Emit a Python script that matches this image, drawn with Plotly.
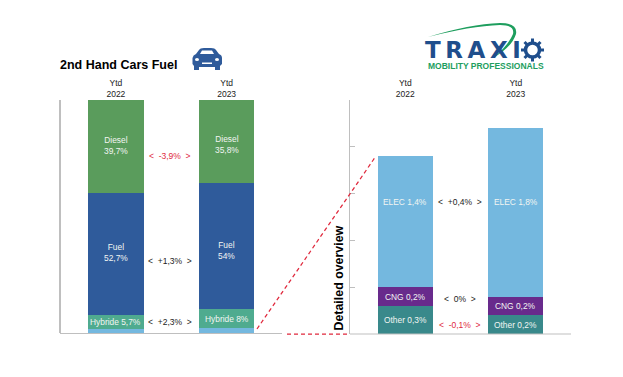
import plotly.graph_objects as go

W, H = 623, 377

# ---- data ----
years = ["Ytd<br>2022", "Ytd<br>2023"]

left_small = [1.9, 2.2]
hybride = [5.7, 8.0]
fuel = [52.7, 54.0]
diesel = [39.7, 35.8]
hybride_labels = ["Hybride 5,7%", "Hybride 8%"]
fuel_labels = ["Fuel<br>52,7%", "Fuel<br>54%"]
diesel_labels = ["Diesel<br>39,7%", "Diesel<br>35,8%"]

other = [0.3, 0.2]
cng = [0.2, 0.2]
elec = [1.4, 1.8]
other_labels = ["Other 0,3%", "Other 0,2%"]
cng_labels = ["CNG 0,2%", "CNG 0,2%"]
elec_labels = ["ELEC 1,4%", "ELEC 1,8%"]

# ---- style ----
FONT = "Liberation Sans, Arial, sans-serif"
GREEN = "#5A9C5C"
BLUE = "#2F5B9B"
HYB = "#4FAB8F"
LBLUE = "#74B8DF"
PURPLE = "#682A8C"
TEAL = "#39898B"
RED = "#E0283C"
GREY = "#BFBFBF"
NAVY = "#1F4E8C"
LOGOGREEN = "#1E9E5E"
LABEL = "#F2F5F2"


def px(x):
    return x / W


def py(y):
    return 1 - y / H


fig = go.Figure()
# running top of each stack, per axis pair
tops = {"x": [0, 0], "x2": [0, 0]}


def stack(values, color, labels, xa, ya, shifts=(0, 0)):
    fig.add_bar(
        x=years, y=values, marker=dict(color=color, line_width=0),
        hoverinfo="skip", xaxis=xa, yaxis=ya, showlegend=False,
    )
    for i, v in enumerate(values):
        if labels:
            fig.add_annotation(
                xref=xa, yref=ya, x=years[i], y=tops[xa][i] + v / 2, text=labels[i],
                showarrow=False, xanchor="center", yanchor="middle", yshift=shifts[i],
                font=dict(family=FONT, size=8.4, color=LABEL),
            )
        tops[xa][i] += v


stack(left_small, LBLUE, None, "x", "y")
stack(hybride, HYB, hybride_labels, "x", "y", (0, 0))
stack(fuel, BLUE, fuel_labels, "x", "y", (1, -4))
stack(diesel, GREEN, diesel_labels, "x", "y", (1, -3))
stack(other, TEAL, other_labels, "x2", "y2")
stack(cng, PURPLE, cng_labels, "x2", "y2")
stack(elec, LBLUE, elec_labels, "x2", "y2", (20, 10))

xcommon = dict(
    type="category", categoryorder="array", categoryarray=years, range=[-0.5, 1.5],
    side="top", showline=False, showgrid=False, zeroline=False, ticks="",
    tickfont=dict(family=FONT, size=8.5, color="#222222"),
)
fig.update_layout(
    width=W, height=H, autosize=False,
    margin=dict(l=0, r=0, t=0, b=0),
    paper_bgcolor="white", plot_bgcolor="white",
    barmode="stack", bargap=0.5, showlegend=False,
    xaxis=dict(domain=[px(60.5), px(282)], anchor="y", **xcommon),
    yaxis=dict(domain=[py(333), py(100)], anchor="x", range=[0, 100],
               showline=True, linecolor=GREY, linewidth=1.5,
               showgrid=False, zeroline=False, ticks="", showticklabels=False),
    xaxis2=dict(domain=[px(350), px(571)], anchor="y2", **xcommon),
    yaxis2=dict(domain=[py(334), py(100)], anchor="x2", range=[0, 2.5], dtick=0.5,
                showline=True, linecolor=GREY, linewidth=1,
                showgrid=False, zeroline=False, ticks="inside", ticklen=5,
                tickcolor=GREY, showticklabels=False),
    title=dict(text="<b>2nd Hand Cars Fuel</b>", x=px(60), xanchor="left",
               y=py(65), yanchor="middle",
               font=dict(family=FONT, size=12.5, color="#000000")),
)


def note(x, y, text, color="#222222", size=8.5, **kw):
    fig.add_annotation(xref="paper", yref="paper", x=px(x), y=py(y), text=text,
                       showarrow=False, xanchor=kw.pop("xanchor", "center"),
                       yanchor="middle", font=kw.pop("font", None) or dict(family=FONT, size=size, color=color), **kw)


note(170, 156, "&lt;  -3,9%  &gt;", RED)
note(170, 261, "&lt;  +1,3%  &gt;")
note(170, 322, "&lt;  +2,3%  &gt;")
note(460, 202, "&lt;  +0,4%  &gt;")
note(459.5, 298.5, "&lt;  0%  &gt;")
note(459.5, 325, "&lt;  -0,1%  &gt;", RED)
note(338, 278.5, "<b>Detailed overview</b>", "#000000", 12.4, textangle=-90)

# logo text
note(473, 50, "<b>T\u2009R\u2009A\u2009X\u2009I</b>", NAVY,
     font=dict(family="DejaVu Sans, sans-serif", size=23, color=NAVY))
note(485.5, 65.7, "<b>MOBILITY PROFESSIONALS</b>", LOGOGREEN, 8.5)


def line(x0, y0, x1, y1, **kw):
    fig.add_shape(type="line", xref="paper", yref="paper",
                  x0=px(x0), y0=py(y0), x1=px(x1), y1=py(y1), line=kw, layer="above")


# axes bottoms
line(60, 333.5, 282, 333.5, color=GREY, width=1)
line(350, 334, 571, 334, color=GREY, width=1)
# zoom connector lines
line(257, 329, 376, 156, color=RED, width=1.25, dash="4px,3px")
line(287, 334, 348, 334, color=RED, width=1.25, dash="4px,3px")


def path(d, fill=None, stroke=None, width=0):
    out = []
    for tok in d.split():
        if "," in tok:
            a, b = tok.split(",")
            out.append(f"{px(float(a)):.5f},{py(float(b)):.5f}")
        else:
            out.append(tok)
    fig.add_shape(type="path", xref="paper", yref="paper", path=" ".join(out),
                  fillcolor=fill, line=dict(color=stroke or "rgba(0,0,0,0)", width=width),
                  layer="above")


# logo swoosh and gear
path("M 428,37 Q 470,24 500,23 Q 518,23 516,34 Q 512,47 493,58 Q 508,46 513,34 Q 515,25 500,25 Q 470,26 428,37 Z", LOGOGREEN)
fig.add_shape(type="circle", xref="paper", yref="paper", x0=px(525.5), y0=py(57), x1=px(539.5),
              y1=py(43), line=dict(color=NAVY, width=3.5), fillcolor="white", layer="above")
for a, b, c, d in [(532.5, 38.5, 532.5, 42.5), (532.5, 57.5, 532.5, 61.5), (521, 50, 525, 50), (540, 50, 544, 50),
                   (524.5, 42, 527, 44.5), (540.5, 42, 538, 44.5), (524.5, 58, 527, 55.5), (540.5, 58, 538, 55.5)]:
    line(a, b, c, d, color=NAVY, width=3)

# car icon
path("M 194,70 L 194,66 L 192.5,64 L 192.5,58 Q 193,55 196,54 L 199,50 Q 200,48 204,48 L 211,48 Q 215,48 216,50 "
     "L 219,54 Q 222,55 222,58 L 222,64 L 220,66 L 220,70 L 215,70 L 215,67 L 199,67 L 199,70 Z", BLUE)
path("M 200,54 L 202,50.5 L 212,50.5 L 214,54 Z", "white")
path("M 202,62.5 L 212,62.5 L 212,64 L 202,64 Z", "white")
fig.add_shape(type="circle", xref="paper", yref="paper", x0=px(195), y0=py(61), x1=px(199), y1=py(58),
              fillcolor="white", line_width=0, layer="above")
fig.add_shape(type="circle", xref="paper", yref="paper", x0=px(215), y0=py(61), x1=px(219), y1=py(58),
              fillcolor="white", line_width=0, layer="above")

fig.write_html("out.html", config={"displayModeBar": False},
               post_script="document.body.style.margin='0';")
